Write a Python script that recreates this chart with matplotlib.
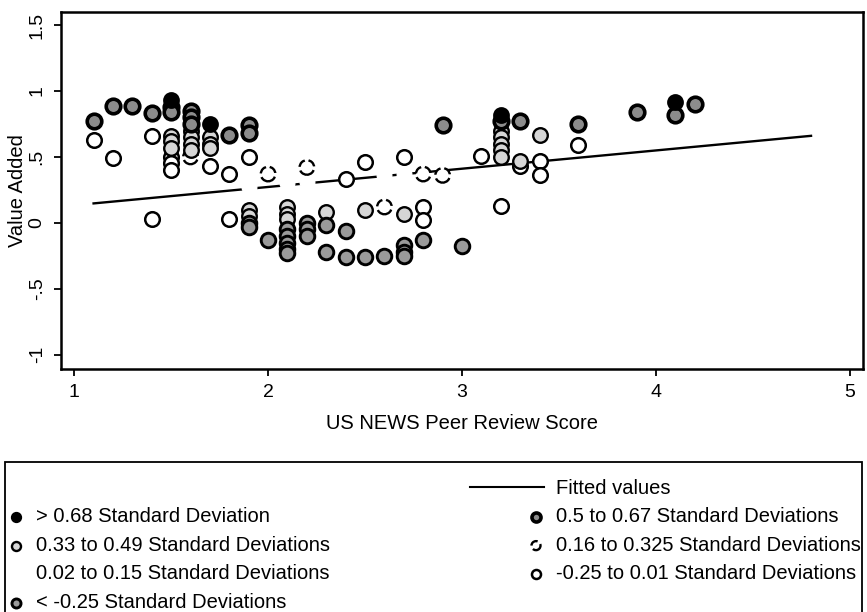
import matplotlib
matplotlib.use("Agg")
import matplotlib.pyplot as plt
from matplotlib.lines import Line2D
from matplotlib.legend_handler import HandlerBase
from matplotlib.patches import Rectangle

plt.rcParams['font.family'] = ['Liberation Sans', 'DejaVu Sans']

# ---------------- data ----------------
# > 0.68 SD (solid black)
a_x = [1.5, 1.7, 3.2, 4.1]
a_y = [0.93, 0.75, 0.82, 0.92]
# 0.5 to 0.67 SD (dark ring, grey centre)
b_x = [1.1, 1.2, 1.3, 1.4, 1.5, 1.5, 1.6, 1.6, 1.6, 1.8, 1.9, 1.9, 2.9, 3.2, 3.3, 3.6, 3.9, 4.1, 4.2]
b_y = [0.77, 0.89, 0.89, 0.83, 0.88, 0.84, 0.85, 0.80, 0.75, 0.67, 0.74, 0.68, 0.74, 0.77, 0.77, 0.75, 0.84, 0.82, 0.90]
# 0.33 to 0.49 SD (light grey fill)
c_x = [1.5, 1.5, 1.5, 1.6, 1.6, 1.6, 1.6, 1.7, 1.7, 1.7, 3.2, 3.2, 3.2, 3.2, 3.2, 3.3, 3.4,
       1.9, 1.9, 2.1, 2.1, 2.1, 2.3, 2.5, 2.7]
c_y = [0.66, 0.62, 0.57, 0.70, 0.65, 0.60, 0.55, 0.65, 0.60, 0.57, 0.70, 0.65, 0.60, 0.55, 0.50, 0.47, 0.67,
       0.10, 0.05, 0.12, 0.07, 0.03, 0.08, 0.10, 0.07]
# 0.16 to 0.325 SD (dashed hollow)
d_x = [1.6, 2.0, 2.2, 2.6, 2.8, 2.9]
d_y = [0.50, 0.37, 0.42, 0.12, 0.37, 0.36]
# 0.02 to 0.15 SD (white, invisible)
e_x = [1.9, 2.1, 2.2, 2.6, 2.7]
e_y = [0.27, 0.30, 0.31, 0.36, 0.37]
# -0.25 to 0.01 SD (hollow)
f_x = [1.1, 1.2, 1.4, 1.4, 1.5, 1.5, 1.5, 1.7, 1.8, 1.8, 1.9, 2.4, 2.5, 2.7, 2.8, 2.8, 3.1, 3.2, 3.3, 3.4, 3.4, 3.6]
f_y = [0.63, 0.49, 0.66, 0.03, 0.50, 0.45, 0.40, 0.43, 0.37, 0.03, 0.50, 0.33, 0.46, 0.50, 0.12, 0.02, 0.51, 0.13, 0.43, 0.47, 0.36, 0.59]
# < -0.25 SD (grey fill)
g_x = [1.9, 1.9, 2.0, 2.1, 2.1, 2.1, 2.1, 2.1, 2.2, 2.2, 2.2, 2.3, 2.3, 2.4, 2.4, 2.5, 2.6, 2.7, 2.7, 2.7, 2.8, 3.0]
g_y = [0.00, -0.03, -0.13, -0.05, -0.10, -0.15, -0.20, -0.23, 0.00, -0.05, -0.10, -0.02, -0.22, -0.06, -0.26, -0.26, -0.25, -0.17, -0.22, -0.25, -0.13, -0.18]

fit_x = [1.1, 4.8]
fit_y = [0.147, 0.66]

xticks = [1, 2, 3, 4, 5]
yticks = [-1, -0.5, 0, 0.5, 1, 1.5]
ytick_labels = ['-1', '-.5', '0', '.5', '1', '1.5']

labels = {
    'a': '> 0.68 Standard Deviation',
    'b': '0.5 to 0.67 Standard Deviations',
    'c': '0.33 to 0.49 Standard Deviations',
    'd': '0.16 to 0.325 Standard Deviations',
    'e': '0.02 to 0.15 Standard Deviations',
    'f': '-0.25 to 0.01 Standard Deviations',
    'g': '< -0.25 Standard Deviations',
    'fit': 'Fitted values',
}

# ---------------- figure ----------------
W, H = 867, 612
fig = plt.figure(figsize=(W / 100, H / 100), dpi=100)
ax = fig.add_axes([61 / W, 1 - 369 / H, (863 - 61) / W, (369 - 12) / H])

ax.plot(fit_x, fit_y, color='black', lw=1.7, zorder=1)

S = 110
styles = {
    'a': dict(facecolors='black', edgecolors='black', linewidths=1.6),
    'b': dict(facecolors='#8c8c8c', edgecolors='black', linewidths=2.6),
    'c': dict(facecolors='#d6d6d6', edgecolors='black', linewidths=1.7),
    'd': dict(facecolors='white', edgecolors='black', linewidths=1.7, linestyles='--'),
    'e': dict(facecolors='white', edgecolors='white', linewidths=1.0),
    'f': dict(facecolors='white', edgecolors='black', linewidths=1.8),
    'g': dict(facecolors='#9a9a9a', edgecolors='black', linewidths=2.1),
}
data = {'a': (a_x, a_y), 'b': (b_x, b_y), 'c': (c_x, c_y), 'd': (d_x, d_y),
        'e': (e_x, e_y), 'f': (f_x, f_y), 'g': (g_x, g_y)}
handles = {}
for k in ['f', 'e', 'd', 'c', 'g', 'b', 'a']:
    xs, ys = data[k]
    handles[k] = ax.scatter(xs, ys, s=S, zorder=3, label=labels[k], **styles[k])

ax.set_xlim(0.932, 5.068)
ax.set_ylim(-1.11, 1.6)
ax.set_xticks(xticks)
ax.set_xticklabels([str(t) for t in xticks])
ax.set_yticks(yticks)
ax.set_yticklabels(ytick_labels, rotation=90, va='center')
ax.tick_params(direction='out', length=5, width=1.3, labelsize=14, colors='black', pad=6)
for sp in ax.spines.values():
    sp.set_linewidth(1.8)
    sp.set_color('black')
ax.set_xlabel('US NEWS Peer Review Score', fontsize=14.5, labelpad=9)
ax.set_ylabel('Value Added', fontsize=14.5, labelpad=1)

# ---------------- legend ----------------
class LongLineHandler(HandlerBase):
    def create_artists(self, legend, orig_handle, xdescent, ydescent,
                       width, height, fontsize, trans):
        y = height / 2 - ydescent
        ln = Line2D([-xdescent - 3.6 * width, width - xdescent], [y, y],
                    color='black', lw=1.5)
        ln.set_transform(trans)
        return [ln]

fit_handle = Line2D([], [], color='black', lw=1.5)
blank = Line2D([], [], color='none')

leg_top = 1 - 479 / H
common = dict(frameon=False, fontsize=14.5, handlelength=0.8, handletextpad=0.6,
              labelspacing=0.47, borderpad=0, borderaxespad=0, scatterpoints=1,
              markerscale=0.62)
leg1 = fig.legend([blank, handles['a'], handles['c'], handles['e'], handles['g']],
                  [' ', labels['a'], labels['c'], labels['e'], labels['g']],
                  loc='upper left', bbox_to_anchor=(8 / W, leg_top), **common)
leg2 = fig.legend([fit_handle, handles['b'], handles['d'], handles['f']],
                  [labels['fit'], labels['b'], labels['d'], labels['f']],
                  loc='upper right', bbox_to_anchor=(861 / W, leg_top),
                  handler_map={Line2D: LongLineHandler()}, **common)

# legend frame (bottom edge runs past the bottom of the picture)
fig.patches.append(Rectangle((5 / W, -10 / H), (862 - 5) / W, (622 - 462) / H,
                             transform=fig.transFigure, fill=False,
                             edgecolor='black', lw=1.3))

fig.savefig('out.png', dpi=100)
